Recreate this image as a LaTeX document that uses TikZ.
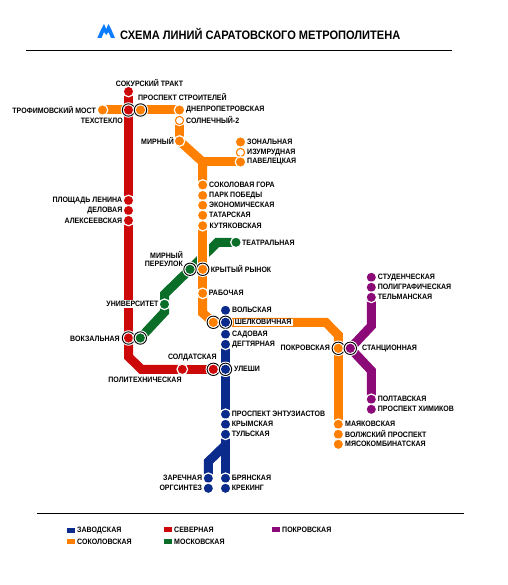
\documentclass[tikz,border=0pt]{standalone}
\usepackage{fontspec}
\setmainfont{Liberation Sans}[FakeStretch=0.9]
\usetikzlibrary{backgrounds}
\definecolor{cred}{HTML}{CC0808}
\definecolor{corange}{HTML}{FF8000}
\definecolor{cblue}{HTML}{0A2A8C}
\definecolor{cgreen}{HTML}{0A6E28}
\definecolor{cpurple}{HTML}{8C0A78}
\definecolor{clogo}{HTML}{0A7CFF}
\tikzset{
 x=1pt,y=-1pt,
 st/.style={circle,inner sep=0,minimum size=10.6pt,fill=#1,draw=white,line width=1.2pt},
 hollow/.style={circle,inner sep=0,minimum size=8.2pt,fill=white,draw=#1,line width=1.1pt,
   preaction={draw=white,line width=3.2pt}},
 ring/.style={circle,inner sep=0,minimum size=12.4pt,fill=white,draw=black,line width=.9pt,
   preaction={draw=white,line width=3pt},
   path picture={\fill[#1] (path picture bounding box.center) circle (4.6pt);}},
 lab/.style={font=\bfseries\fontsize{7.8}{7.8}\selectfont,inner sep=0,text=black,anchor=west},
 labr/.style={lab,anchor=east},
 labc/.style={lab,anchor=center},
 metro/.style={draw=#1,line width=9pt,line join=miter},
 casing/.style={draw=white,line width=11.8pt},
 rule/.style={draw=black,line width=1pt},
 swatch/.style={fill=#1,draw=none}
}
\begin{document}
\begin{tikzpicture}
\useasboundingbox (0,0) rectangle (507,585);
% title
\fill[clogo] (97.3,38)--(100.8,30)--(104,24)--(106.2,29)--(108.5,24)--(111.5,30)--(115,38)--(111,38)--(108.5,32)--(106.2,35)--(104,32)--(101.5,38)--cycle;
\node[lab,font=\bfseries\fontsize{12.3}{13}\selectfont] (title) at (120,33.6) {СХЕМА ЛИНИЙ САРАТОВСКОГО МЕТРОПОЛИТЕНА};
\coordinate (r1a) at (26,50.5); \coordinate (r1b) at (452,50.5);
\coordinate (r2a) at (37,513.3); \coordinate (r2b) at (464,513.3);
\draw[rule] (r1a) -- (r1b);
\draw[rule] (r2a) -- (r2b);
% stations: red
\node[st=cred] (sok) at (128.5,91.5) {};
\node[ring=cred] (tex) at (128.5,110) {};
\node[st=cred] (len) at (128.5,200.5) {};
\node[st=cred] (del) at (128.5,210.5) {};
\node[st=cred] (ale) at (128.5,220.5) {};
\node[ring=cred] (vok) at (128.5,338) {};
\node[st=cred] (sol) at (182.3,369.3) {};
\node[ring=cred] (ulr) at (213.3,369.3) {};
% orange
\node[st=corange] (tro) at (102.5,110) {};
\node[ring=corange] (str) at (140.5,110) {};
\node[st=corange] (dne) at (179.5,110) {};
\node[hollow=corange] (sln) at (179.5,120.5) {};
\node[st=corange] (mir) at (179.5,141) {};
\node[st=corange] (zon) at (240.5,142) {};
\node[hollow=corange] (izu) at (240.5,152.5) {};
\node[st=corange] (pav) at (240.5,162) {};
\node[st=corange] (skg) at (202.7,185) {};
\node[st=corange] (pob) at (202.7,195.5) {};
\node[st=corange] (eko) at (202.7,205.3) {};
\node[st=corange] (tat) at (202.7,215.3) {};
\node[st=corange] (kut) at (202.7,225.7) {};
\node[ring=corange] (kry) at (202.7,269.3) {};
\node[st=corange] (rab) at (202.7,293.3) {};
\node[ring=corange] (sho) at (213.3,322.3) {};
\node[ring=corange] (pok) at (338.3,348.3) {};
\node[st=corange] (may) at (338.3,424.3) {};
\node[st=corange] (vol) at (338.3,434.3) {};
\node[st=corange] (mas) at (338.3,444.3) {};
% green
\node[st=cgreen] (tea) at (236,242.3) {};
\node[ring=cgreen] (mpe) at (190,269.3) {};
\node[st=cgreen] (uni) at (164.5,304.3) {};
\node[ring=cgreen] (vkg) at (140.3,338) {};
% blue
\node[st=cblue] (vls) at (225.5,310.3) {};
\node[ring=cblue] (shb) at (225.5,322.3) {};
\node[st=cblue] (sad) at (225.5,334.3) {};
\node[st=cblue] (deg) at (225.5,344.3) {};
\node[ring=cblue] (ule) at (225.5,369.3) {};
\node[st=cblue] (ent) at (225.5,414.3) {};
\node[st=cblue] (kri) at (225.5,424.3) {};
\node[st=cblue] (tul) at (225.5,434.3) {};
\node[st=cblue] (bry) at (225.5,478.3) {};
\node[st=cblue] (kre) at (225.5,488.3) {};
\node[st=cblue] (zar) at (208.3,478.3) {};
\node[st=cblue] (org) at (208.3,488.3) {};
% purple
\node[st=cpurple] (stu) at (371.3,277.3) {};
\node[st=cpurple] (pol) at (371.3,287.3) {};
\node[st=cpurple] (tel) at (371.3,297.3) {};
\node[ring=cpurple] (sta) at (350.3,348.3) {};
\node[st=cpurple] (plt) at (371.3,399.3) {};
\node[st=cpurple] (him) at (371.3,409.3) {};
% labels
\node[labc] (l1) at (149.5,83.3) {СОКУРСКИЙ ТРАКТ};
\node[lab] (l2) at (138,97.3) {ПРОСПЕКТ СТРОИТЕЛЕЙ};
\node[labr] (l3) at (96,110) {ТРОФИМОВСКИЙ МОСТ};
\node[labr] (l4) at (123,120.5) {ТЕХСТЕКЛО};
\node[lab] (l5) at (186,110) {ДНЕПРОПЕТРОВСКАЯ};
\node[lab] (l6) at (186,120.5) {СОЛНЕЧНЫЙ-2};
\node[labr] (l7) at (174,141) {МИРНЫЙ};
\node[lab] (l8) at (247,142) {ЗОНАЛЬНАЯ};
\node[lab] (l9) at (247,152.3) {ИЗУМРУДНАЯ};
\node[lab] (l10) at (247,162) {ПАВЕЛЕЦКАЯ};
\node[lab] (l11) at (209,185) {СОКОЛОВАЯ ГОРА};
\node[lab] (l12) at (209,195.3) {ПАРК ПОБЕДЫ};
\node[lab] (l13) at (209,205.3) {ЭКОНОМИЧЕСКАЯ};
\node[lab] (l14) at (209,215.3) {ТАТАРСКАЯ};
\node[lab] (l15) at (209.5,226) {КУТЯКОВСКАЯ};
\node[labr] (l16) at (122.5,200.5) {ПЛОЩАДЬ ЛЕНИНА};
\node[labr] (l17) at (122.5,210.5) {ДЕЛОВАЯ};
\node[labr] (l18) at (122.5,220.5) {АЛЕКСЕЕВСКАЯ};
\node[lab] (l19) at (242,242.5) {ТЕАТРАЛЬНАЯ};
\node[labr] (l20) at (183,255) {МИРНЫЙ};
\node[labr] (l21) at (183,263.7) {ПЕРЕУЛОК};
\node[lab] (l22) at (210.7,269.3) {КРЫТЫЙ РЫНОК};
\node[lab] (l23) at (208.7,293.3) {РАБОЧАЯ};
\node[labr,fill=white,inner ysep=1.2pt] (l24) at (158.7,304.3) {УНИВЕРСИТЕТ};
\node[labr] (l25) at (120,338.5) {ВОКЗАЛЬНАЯ};
\node[lab] (l26) at (232,310.3) {ВОЛЬСКАЯ};
\node[lab,fill=white,draw=corange,line width=.6pt,inner xsep=2pt,inner ysep=1.2pt] (l27) at (232.5,322.3) {ШЕЛКОВИЧНАЯ};
\node[lab] (l28) at (232,334.3) {САДОВАЯ};
\node[lab] (l29) at (232,344.3) {ДЕГТЯРНАЯ};
\node[labr] (l30) at (330,348.3) {ПОКРОВСКАЯ};
\node[lab] (l31) at (362,348.3) {СТАНЦИОННАЯ};
\node[labc] (l32) at (192.3,357.7) {СОЛДАТСКАЯ};
\node[labc] (l33) at (145,380.3) {ПОЛИТЕХНИЧЕСКАЯ};
\node[lab] (l34) at (234,369.3) {УЛЕШИ};
\node[lab] (l35) at (345,424.3) {МАЯКОВСКАЯ};
\node[lab] (l36) at (345,434.3) {ВОЛЖСКИЙ ПРОСПЕКТ};
\node[lab] (l37) at (345,444.3) {МЯСОКОМБИНАТСКАЯ};
\node[lab] (l38) at (377.7,277.3) {СТУДЕНЧЕСКАЯ};
\node[lab] (l39) at (377.7,287.3) {ПОЛИГРАФИЧЕСКАЯ};
\node[lab] (l40) at (377.7,297.3) {ТЕЛЬМАНСКАЯ};
\node[lab] (l41) at (377.7,399.3) {ПОЛТАВСКАЯ};
\node[lab] (l42) at (377.7,409.3) {ПРОСПЕКТ ХИМИКОВ};
\node[lab] (l43) at (231.7,414.3) {ПРОСПЕКТ ЭНТУЗИАСТОВ};
\node[lab] (l44) at (231.7,424.3) {КРЫМСКАЯ};
\node[lab] (l45) at (231.7,434.3) {ТУЛЬСКАЯ};
\node[lab] (l46) at (231.7,478.3) {БРЯНСКАЯ};
\node[lab] (l47) at (231.7,488.3) {КРЕКИНГ};
\node[labr] (l48) at (202.3,478.3) {ЗАРЕЧНАЯ};
\node[labr] (l49) at (202.3,488.3) {ОРГСИНТЕЗ};
% legend
\fill[swatch=cblue] (67,528) rectangle (75,533);
\fill[swatch=corange] (67,539) rectangle (75,544);
\fill[swatch=cred] (164,527) rectangle (172,532);
\fill[swatch=cgreen] (164,539) rectangle (172,544);
\fill[swatch=cpurple] (272,527) rectangle (280,532);
\node[lab] (k1) at (77,530.5) {ЗАВОДСКАЯ};
\node[lab] (k2) at (77,541.5) {СОКОЛОВСКАЯ};
\node[lab] (k3) at (174,529.5) {СЕВЕРНАЯ};
\node[lab] (k4) at (174,541.5) {МОСКОВСКАЯ};
\node[lab] (k5) at (282,529.5) {ПОКРОВСКАЯ};
% lines
\coordinate (jn) at (202.7,162);
\coordinate (rb1) at (128.5,356.7);
\coordinate (rb2) at (141.3,369.3);
\coordinate (ob1) at (202.7,313);
\coordinate (ob2) at (325.7,322.3);
\coordinate (ob3) at (338.3,335);
\coordinate (gb1) at (164.5,312);
\coordinate (gb2) at (164.5,294.2);
\coordinate (gb3) at (217.5,242.3);
\coordinate (bb1) at (208.3,461.7);
\coordinate (bb2) at (225.5,445);
\coordinate (pb1) at (371.3,326);
\coordinate (pb2) at (371.3,370.6);
\begin{scope}[on background layer]
\draw[metro=cgreen] (vkg.center) -- (gb1) -- (uni.center);
\draw[metro=cgreen] (uni.center) -- (gb2) -- (mpe.center);
\draw[metro=cgreen] (mpe.center) -- (gb3) -- (tea.center);
\draw[casing] (kut.center) -- (kry.center);
\draw[metro=corange] (tro.center) -- (tex.center);
\draw[metro=corange] (str.center) -- (dne.center);
\draw[metro=corange] (sln.center) -- (mir.center);
\draw[metro=corange] (mir.center) -- (jn) -- (skg.center);
\draw[metro=corange] (jn) -- (pav.center);
\draw[metro=corange] (kut.center) -- (kry.center);
\draw[metro=corange] (kry.center) -- (rab.center);
\draw[metro=corange] (rab.center) -- (ob1) -- (sho.center);
\draw[metro=corange] (sho.center) -- (ob2) -- (ob3) -- (pok.center);
\draw[metro=corange] (pok.center) -- (may.center);
\draw[metro=cred] (sok.center) -- (tex.center);
\draw[metro=cred] (tex.center) -- (len.center);
\draw[metro=cred] (ale.center) -- (vok.center);
\draw[metro=cred] (vok.center) -- (rb1) -- (rb2) -- (sol.center);
\draw[metro=cred] (sol.center) -- (ulr.center);
\draw[metro=cblue] (deg.center) -- (ule.center);
\draw[metro=cblue] (ule.center) -- (ent.center);
\draw[metro=cblue] (tul.center) -- (bry.center);
\draw[metro=cblue] (zar.center) -- (bb1) -- (bb2);
\draw[metro=cpurple] (tel.center) -- (pb1) -- (sta.center);
\draw[metro=cpurple] (sta.center) -- (pb2) -- (plt.center);
\end{scope}
\end{tikzpicture}
\end{document}
